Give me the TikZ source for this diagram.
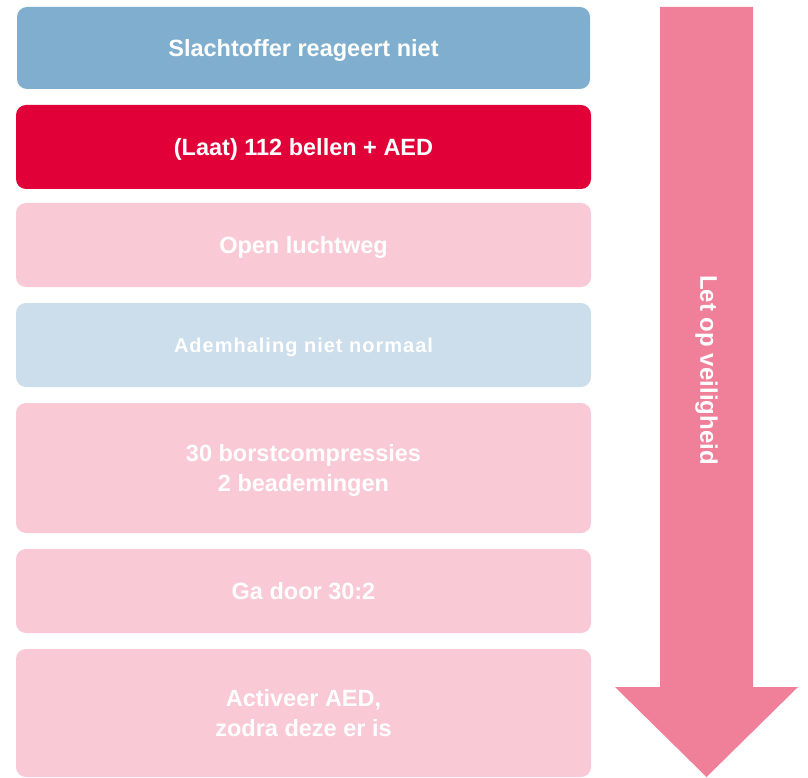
\documentclass[tikz,border=0pt]{standalone}
\usepackage{fontspec}
\setmainfont{Liberation Sans}
\usetikzlibrary{positioning}
\definecolor{stepblue}{HTML}{7FAECE}
\definecolor{stepred}{HTML}{E10037}
\definecolor{steppink}{HTML}{F9C9D6}
\definecolor{steplightblue}{HTML}{CCDDEB}
\definecolor{arrowpink}{HTML}{F0809A}
\tikzset{
    stepbox/.style={rounded corners=10pt, text=white, align=center, inner sep=0pt, outer sep=0pt, text depth=0pt,
        minimum width=575pt, minimum height=84pt, font=\bfseries\fontsize{23.5}{30}\selectfont},
    tall/.style={minimum height=130pt},
    safety/.style={fill=arrowpink}
}

\begin{document}
\begin{tikzpicture}[x=1pt, y=-1pt, node distance=16pt]
    \useasboundingbox (0,0) rectangle (808,778);
    \node[stepbox, fill=stepblue, minimum width=573pt, minimum height=82pt] (noresponse) at (303.5,48) {Slachtoffer reageert niet};
    \node[stepbox, fill=stepred, below=of noresponse] (call) {(Laat) 112 bellen + AED};
    \node[stepbox, fill=steppink, below=14pt of call] (airway) {Open luchtweg};
    \node[stepbox, fill=steplightblue, below=of airway,
        font=\bfseries\fontsize{20}{24}\selectfont\addfontfeature{LetterSpace=5}] (breathing) {Ademhaling niet normaal};
    \node[stepbox, tall, fill=steppink, below=of breathing] (cpr) {30 borstcompressies\\2 beademingen};
    \node[stepbox, fill=steppink, below=of cpr] (continue) {Ga door 30:2};
    \node[stepbox, tall, fill=steppink, minimum height=128pt, below=of continue] (aed) {Activeer AED,\\zodra deze er is};

    % safety arrow
    \fill[safety] (660,7) -- (753,7) -- (753,687) -- (798,687) -- (706.5,777) -- (615,687) -- (660,687) -- cycle;
    \node[text=white, rotate=-90, font=\bfseries\fontsize{24}{30}\selectfont] (watchout) at (706.5,370) {Let op veiligheid};
\end{tikzpicture}
\end{document}
